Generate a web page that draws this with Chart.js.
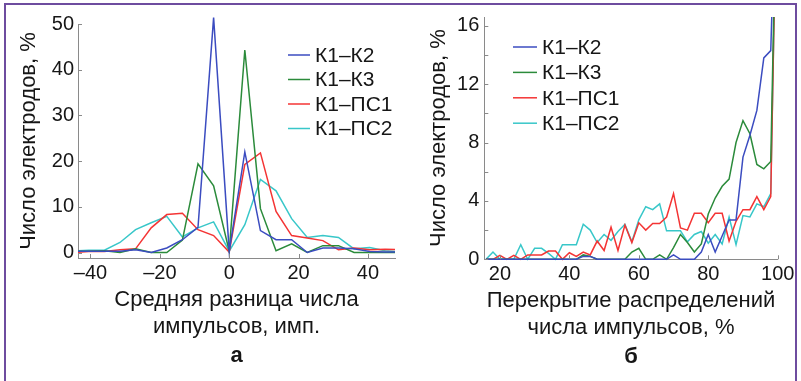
<!DOCTYPE html>
<html>
<head>
<meta charset="utf-8">
<script src="https://cdn.jsdelivr.net/npm/chart.js@4.4.1/dist/chart.umd.min.js"></script>
<style>
  html, body { margin: 0; padding: 0; background: #fff; }
  #wrap { position: relative; width: 801px; height: 381px; overflow: hidden; }
  #frame { position: absolute; left: 4px; top: 3px; width: 793px; height: 380px;
           border: 2px solid #6e4c9f; border-bottom: none; box-sizing: border-box; }
  #left { position: absolute; left: 0; top: 0; width: 400px; height: 381px; }
  #right { position: absolute; left: 400px; top: 0; width: 401px; height: 381px; }
</style>
</head>
<body>
<div id="wrap">
  <canvas id="left" width="400" height="381"></canvas>
  <canvas id="right" width="401" height="381"></canvas>
  <div id="frame"></div>
</div>
<script>
// series names and colours (same for both panels)
const seriesNames = ["К1–К2", "К1–К3", "К1–ПС1", "К1–ПС2"];
const seriesColors = ["#3b4cc0", "#2b8b3b", "#f43434", "#38c7c9"];

// panel "а": mean difference of pulse counts
const diffX = [-49.5, -45, -40.5, -36, -31.5, -27, -22.5, -18, -13.5, -9, -4.5, 0,
               4.5, 9, 13.5, 18, 22.5, 27, 31.5, 36, 40.5, 45, 49.5];
const diffK1K2  = [0.3, 0.3, 0.3, 0.3, 0.3, 0.6, 0, 1.0, 2.8, 5.5, 51.4, 0.3,
                   22, 4.8, 2.8, 2.8, 0, 1.0, 1.0, 0.8, 0.2, 0.1, 0.1];
const diffK1K3  = [0.3, 0.3, 0.3, 0.4, 0, 0.8, 0, 0, 2.7, 19.4, 14.6, 0.3,
                   44.3, 9.6, 0.4, 1.9, 0, 1.5, 1.5, 0, 0, 0, 0];
const diffK1PS1 = [0, 0, 0.2, 0.2, 0.6, 0.8, 5.4, 8.3, 8.6, 5.0, 3.7, 0.1,
                   19.3, 21.8, 9.0, 3.7, 3.2, 2.6, 0.6, 1.0, 0.6, 0.7, 0.6];
const diffK1PS2 = [0.3, 0.3, 0.5, 0.5, 2.2, 5.0, 6.5, 7.9, 3.4, 5.4, 6.7, 0.3,
                   6.1, 16.0, 13.5, 7.4, 3.3, 3.7, 3.3, 0.8, 1.1, 0.4, 0.1];
const diffXTicks = [-40, -20, 0, 20, 40];
const diffYTicks = [0, 10, 20, 30, 40, 50];

// panel "б": overlap of pulse count distributions
const overlapX = [16, 18, 20, 22, 24, 26, 28, 30, 32, 34, 36, 38, 40, 42, 44, 46, 48, 50,
                  52, 54, 56, 58, 60, 62, 64, 66, 68, 70, 72, 74, 76, 78, 80, 82, 84, 86,
                  88, 90, 92, 94, 96, 98, 100];
const overlapK1K2  = [0, 0, 0, 0, 0, 0, 0, 0, 0, 0, 0, 0, 0, 0, 0.2, 0.2, 0, 0, 0, 0, 0, 0,
                      0, 0, 0, 0, 0, 0.3, 0, 0, 0, 0.5, 1.7, 0.5, 1.6, 2.7, 2.7, 7.0, 8.5,
                      10.2, 13.8, 14.3, 30];
const overlapK1K3  = [0, 0, 0, 0, 0, 0, 0, 0, 0, 0, 0, 0, 0, 0, 0.3, 0.2, 0, 0, 0, 0, 0, 0.5,
                      0.75, 0, 0, 0.3, 0, 0.8, 1.7, 1.15, 0.5, 1.05, 3.1, 4.2, 5.0, 5.5, 8.0,
                      9.5, 8.6, 6.5, 6.2, 6.7, 30];
const overlapK1PS1 = [0, 0, 0.27, 0, 0.27, 0, 0.3, 0.3, 0.3, 0.57, 0.57, 0, 0.45, 0.2, 0.5,
                      0.3, 1.25, 0.6, 2.2, 0.6, 2.35, 1.15, 2.5, 2.0, 2.45, 2.45, 2.9, 4.5,
                      2.15, 2.0, 3.15, 3.15, 2.5, 3.15, 3.15, 1.25, 2.6, 3.4, 3.4, 4.3, 3.4,
                      4.3, 30];
const overlapK1PS2 = [0, 0.5, 0, 0, 0, 1.0, 0, 0.75, 0.75, 0.4, 0, 1.0, 1.0, 1.0, 2.4, 2.0,
                      1.15, 1.7, 1.3, 1.9, 2.4, 1.2, 2.7, 3.6, 3.4, 3.8, 1.95, 1.95, 1.95,
                      1.2, 1.7, 1.9, 1.1, 1.7, 1.05, 2.9, 1.0, 3.0, 2.9, 3.8, 3.6, 4.5, 30];
const overlapXTicks = [20, 40, 60, 80, 100];
const overlapYTicks = [0, 2, 4, 6, 8, 10, 12, 14, 16];

const textColor = "#161616";
const axisColor = "#8a8a8a";
const sans = '"Liberation Sans", Arial, sans-serif';

// inward tick marks, MATLAB style
const innerTicks = {
  id: "innerTicks",
  afterDatasetsDraw(chart) {
    const { ctx, chartArea: a, scales: { x, y } } = chart;
    ctx.save();
    ctx.strokeStyle = axisColor;
    ctx.lineWidth = 1;
    ctx.beginPath();
    x.ticks.forEach(t => {
      const px = Math.round(x.getPixelForValue(t.value)) + 0.5;
      ctx.moveTo(px, a.bottom); ctx.lineTo(px, a.bottom - 4);
    });
    y.ticks.forEach(t => {
      const py = Math.round(y.getPixelForValue(t.value)) + 0.5;
      ctx.moveTo(a.left, py); ctx.lineTo(a.left + 4, py);
    });
    ctx.stroke();
    ctx.restore();
  }
};

// legend drawn inside the plot
const lineLegend = {
  id: "lineLegend",
  afterDraw(chart, args, o) {
    const ctx = chart.ctx;
    ctx.save();
    ctx.font = "21px " + sans;
    ctx.textBaseline = "middle";
    chart.data.datasets.forEach((ds, i) => {
      const yy = o.y + i * o.step;
      ctx.strokeStyle = ds.borderColor;
      ctx.lineWidth = 1.5;
      ctx.beginPath();
      ctx.moveTo(o.x, yy); ctx.lineTo(o.x + o.len, yy);
      ctx.stroke();
      ctx.fillStyle = textColor;
      ctx.fillText(ds.label, o.x + o.len + 5, yy + 1);
    });
    ctx.restore();
  }
};

function datasets(xs, series, clip) {
  return series.map((ys, i) => ({
    label: seriesNames[i],
    data: xs.map((x, j) => ({ x: x, y: ys[j] })),
    borderColor: seriesColors[i],
    backgroundColor: seriesColors[i],
    borderWidth: 1.5,
    pointRadius: 0,
    tension: 0,
    fill: false,
    clip: clip
  }));
}

const fmt = v => (v < 0 ? "–" + Math.abs(v) : String(v));

function panel(canvasId, p) {
  const ctx = document.getElementById(canvasId).getContext("2d");
  return new Chart(ctx, {
    type: "line",
    data: { datasets: datasets(p.xs, p.series, p.clip) },
    options: {
      responsive: false,
      animation: false,
      layout: { padding: p.padding },
      scales: {
        x: {
          type: "linear", min: p.xMin, max: p.xMax,
          afterBuildTicks: s => { s.ticks = p.xTicks.map(v => ({ value: v })); },
          afterFit: s => { s.height = p.xHeight; },
          grid: { display: false, drawTicks: false },
          border: { color: axisColor },
          ticks: { font: { family: sans, size: 20 }, color: textColor, padding: 3,
                   maxRotation: 0, callback: v => fmt(v) },
          title: { display: true, text: p.xTitle, color: textColor,
                   font: { family: sans, size: 22 }, padding: { top: 0, bottom: 0 } }
        },
        y: {
          min: p.yMin, max: p.yMax,
          afterBuildTicks: s => { s.ticks = p.yTicks.map(v => ({ value: v })); },
          afterFit: s => { s.width = p.yWidth; },
          grid: { display: false, drawTicks: false },
          border: { color: axisColor },
          ticks: { font: { family: sans, size: 20 }, color: textColor, padding: p.yPad,
                   callback: v => (p.yLabels.includes(v) ? String(v) : "") },
          title: { display: true, text: "Число электродов, %", color: textColor,
                   font: { family: sans, size: 22 }, padding: { top: p.yTitlePad, bottom: 0 } }
        }
      },
      plugins: {
        legend: { display: false },
        tooltip: { enabled: false },
        title: { display: true, text: p.letter, position: "bottom", fullSize: false,
                 color: textColor, font: { family: sans, size: 22, weight: "bold" },
                 padding: { top: 3, bottom: 4 } },
        lineLegend: p.legend
      }
    },
    plugins: [innerTicks, lineLegend]
  });
}

panel("left", {
  xs: diffX,
  series: [diffK1K2, diffK1K3, diffK1PS1, diffK1PS2],
  clip: { left: 0, right: 0, top: 12, bottom: 2 },
  padding: { top: 24, right: 5, bottom: 7.6, left: 0 },
  xMin: -43.6, xMax: 47.8, xTicks: diffXTicks, xHeight: 82,
  xTitle: ["Средняя разница числа", "импульсов, имп."],
  yMin: -1.2, yMax: 50, yTicks: diffYTicks, yLabels: diffYTicks, yWidth: 78, yPad: 4,
  yTitlePad: 15.8,
  letter: "а",
  legend: { x: 288, y: 55, step: 24.5, len: 22 }
});

panel("right", {
  xs: overlapX,
  series: [overlapK1K2, overlapK1K3, overlapK1PS1, overlapK1PS2],
  clip: { left: 0, right: 0, top: 0, bottom: 2 },
  padding: { top: 17, right: 23.3, bottom: 6.8, left: 0 },
  xMin: 15.5, xMax: 100, xTicks: overlapXTicks, xHeight: 81.5,
  xTitle: ["Перекрытие распределений", "числа импульсов, %"],
  yMin: 0, yMax: 16.6, yTicks: overlapYTicks, yLabels: [0, 4, 8, 12, 16], yWidth: 84.3, yPad: 5,
  yTitlePad: 25.8,
  letter: "б",
  legend: { x: 113, y: 47, step: 25.4, len: 24 }
});
</script>
</body>
</html>
